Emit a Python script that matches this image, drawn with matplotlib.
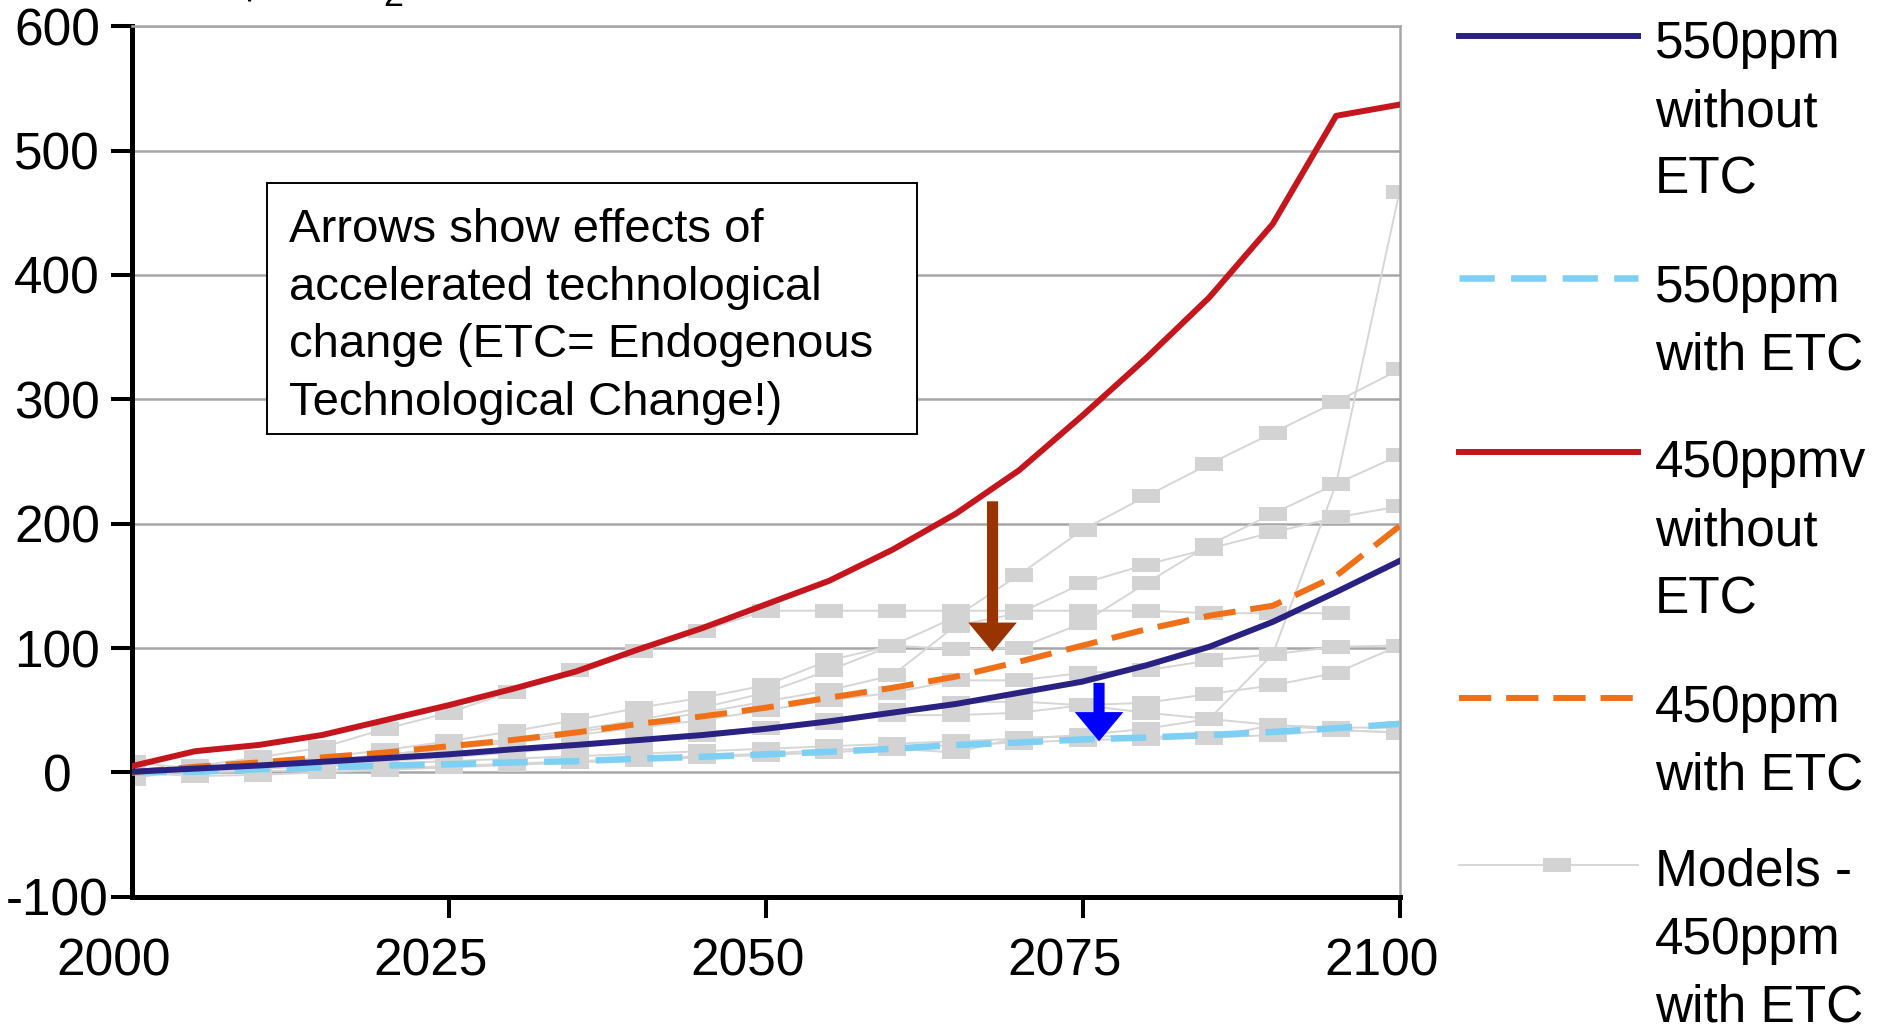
import numpy as np
import matplotlib
matplotlib.use("Agg")
import matplotlib.pyplot as plt
from matplotlib.lines import Line2D
from matplotlib.patches import Rectangle
from matplotlib.transforms import ScaledTranslation

plt.rcParams['font.family'] = ['Liberation Sans', 'DejaVu Sans']
plt.rcParams['mathtext.default'] = 'regular'
plt.rcParams['axes.unicode_minus'] = False

# ---- data, 5-year steps 2000..2100 ----
years = np.arange(2000, 2101, 5)

p550_without_etc = [0.5, 3, 5.5, 8.5, 11.5, 14.5, 18.5, 22, 26, 30, 35,
                    41, 48, 55, 64, 73, 86, 101, 121, 145, 170]
p550_with_etc = [0, 0.5, 2.5, 4, 5.5, 6.5, 8, 9, 11, 12.5, 14.5,
                 16.5, 19, 22, 24, 26.5, 28, 30, 32.5, 35.5, 39]
p450_without_etc = [5, 17, 22, 30, 42, 54, 67, 81, 99, 116, 135,
                    154, 179, 208, 243, 287, 333, 382, 441, 528, 537]
p450_with_etc = [0, 4.5, 8, 12, 16, 21, 26, 32, 39, 45, 52,
                 60, 68, 77, 89, 102, 115, 126, 134, 158, 198]

nan = np.nan
models = [
    [0, 5, 12, 20, 35, 48, 65, 82, 98, 114, 130, 130, 130, 130, 130, 130, 130, 128, 128, 128, nan],
    [0, 2, 5, 9, 14, 20, 27, 34, 42, 52, 64, 82, 102, 125, 159, 195, 222, 248, 273, 298, 324],
    [-5, 3, 7, 12, 18, 25, 33, 42, 52, 60, 70, 90, 102, 99, 100, 120, 152, 183, 208, 232, 255],
    [0, 2, 5, 9, 14, 19, 25, 32, 40, 48, 57, 66, 78, 118, 128, 152, 167, 180, 193, 205, 214],
    [0, 1, 3, 5, 7, 9, 11, 13, 15, 17, 19, 21, 23, 25, 27, 30, 35, 43, 95, 232, 467],
    [8, 3, 6, 10, 14, 19, 24, 30, 36, 42, 50, 58, 64, 74, 74, 80, 82, 90, 95, 101, 102],
    [0, 1, 3, 6, 9, 12, 16, 20, 25, 30, 36, 40, 46, 46, 48, 54, 56, 63, 70, 80, 102],
    [0, 2, 4, 7, 10, 14, 18, 22, 27, 32, 36, 42, 50, 56, 57, 54, 48, 43, 38, 34, 32],
    [0, 0, 1, 2, 3, 5, 7, 9, 11, 13, 15, 18, 20, 22, 24, 26, 27, 28, 30, 34, 32],
    [0, -3, -2, 0, 2, 4, 6, 8, 10, 12, 14, 16, 19, 16, 28, 29, 29, 28, 38, 36, 36],
]

legend_labels = ["550ppm\nwithout\nETC", "550ppm\nwith ETC", "450ppmv\nwithout\nETC",
                 "450ppm\nwith ETC", "Models -\n450ppm\nwith ETC"]
box_text = ["Arrows show effects of", "accelerated technological",
            "change (ETC= Endogenous", "Technological Change!)"]
# arrows: year, from, to
arrows = [(2067.9, 218, 97, '#993300'), (2076.3, 72, 25, '#0000FF')]

# ---- styles ----
RED, NAVY, ORANGE, LBLUE = '#C4161C', '#2A2283', '#F07018', '#7ECFF4'
GRAY_LINE, GRAY_MARK = '#D6D6D6', '#D3D3D3'
GRID = '#A6A6A6'
rect_marker = [(-1, -0.48), (1, -0.48), (1, 0.48), (-1, 0.48), (-1, -0.48)]
LW = 4.3
DASH = (5.4, 2.5)
FS = 37

W, H = 1878, 1027
fig = plt.figure(figsize=(W / 100, H / 100), dpi=100)
ax = fig.add_axes([131.7 / W, 1 - 896.7 / H, (1399.5 - 131.7) / W, (896.7 - 26.3) / H])

for m in models:
    ax.plot(years, m, color=GRAY_LINE, lw=1.4, marker=rect_marker, markersize=20,
            markerfacecolor=GRAY_MARK, markeredgewidth=0, zorder=2)

ax.plot(years, p550_with_etc, color=LBLUE, lw=LW + 0.4, dashes=DASH, zorder=3)
ax.plot(years, p450_with_etc, color=ORANGE, lw=LW, dashes=DASH, zorder=4)
ax.plot(years, p550_without_etc, color=NAVY, lw=LW, zorder=4)
ax.plot(years, p450_without_etc, color=RED, lw=LW, zorder=4)

for x, y0, y1, c in arrows:
    ax.annotate('', xy=(x, y1), xytext=(x, y0),
                arrowprops=dict(arrowstyle='simple,head_length=2.1,head_width=3.5,tail_width=0.8',
                                mutation_scale=10, color=c, lw=0, shrinkA=0, shrinkB=0),
                zorder=6)

ax.set_xlim(2000, 2100)
ax.set_ylim(-100, 600)
ax.set_xticks([2000, 2025, 2050, 2075, 2100])
ax.set_yticks(range(-100, 601, 100))
ax.set_axisbelow(True)
ax.yaxis.grid(True, color=GRID, lw=1.8)
ax.spines['left'].set_linewidth(3.6)
ax.spines['bottom'].set_linewidth(3.6)
for s in ('right', 'top'):
    ax.spines[s].set_color(GRID)
    ax.spines[s].set_linewidth(1.8)
ax.tick_params(axis='both', direction='out', length=15, width=2.9, labelsize=FS)
ax.tick_params(axis='y', pad=38.7)
ax.tick_params(axis='x', pad=14.5)
for lab in ax.get_yticklabels():
    lab.set_horizontalalignment('center')
shift = ScaledTranslation(-18 / 100, 0, fig.dpi_scale_trans)
for lab in ax.get_xticklabels():
    lab.set_transform(lab.get_transform() + shift)
ax.xaxis.get_major_ticks()[0].tick1line.set_visible(False)

# title, mostly cut off at the top edge
fig.text(163 / W, 1 + 1 / H, r'US\$/t CO$_2$', fontsize=FS, va='baseline')

# text box
fig.add_artist(Rectangle((267 / W, 1 - 434 / H), 650 / W, 251 / H, transform=fig.transFigure,
                         facecolor='white', edgecolor='black', lw=1.4, zorder=5))
for i, line in enumerate(box_text):
    fig.text(289 / W, 1 - (242 + 57.5 * i) / H, line, fontsize=34, va='baseline', zorder=6)

# legend (drawn by hand on the right)
leg_y = [36, 278, 452, 698, 865]
leg_first = [58, 302, 477, 722, 886]
leg_styles = [dict(color=NAVY, lw=LW), dict(color=LBLUE, lw=LW + 0.4, dashes=DASH),
              dict(color=RED, lw=LW), dict(color=ORANGE, lw=LW, dashes=DASH),
              dict(color=GRAY_LINE, lw=1.4)]
for y, yb, st, lab in zip(leg_y, leg_first, leg_styles, legend_labels):
    fig.add_artist(Line2D([1459 / W, 1638 / W], [1 - y / H, 1 - y / H],
                          transform=fig.transFigure, **st))
    for j, part in enumerate(lab.split('\n')):
        fig.text(1655 / W, 1 - (yb + 68 * j) / H, part, fontsize=FS, va='baseline')
fig.add_artist(Line2D([1557 / W], [1 - 865 / H], transform=fig.transFigure, ls='none',
                      marker=rect_marker, markersize=20, markerfacecolor=GRAY_MARK,
                      markeredgewidth=0))

fig.savefig('out.png', dpi=100)
